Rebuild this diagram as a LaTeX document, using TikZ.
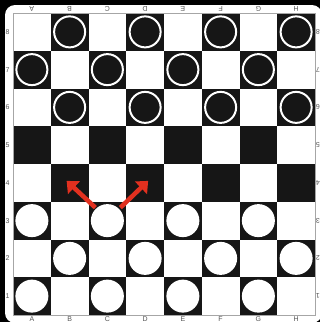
\documentclass[tikz,border=0pt]{standalone}
\usepackage{fontspec}
\setmainfont{Liberation Sans}
\usetikzlibrary{arrows.meta}
\definecolor{sqdark}{HTML}{161616}
\definecolor{lbl}{HTML}{555555}
\definecolor{arrred}{HTML}{E2301F}
\tikzset{
  darksq/.style={fill=sqdark},
  blackpiece/.style={circle, draw=white, line width=2pt, fill=sqdark, minimum size=31pt, inner sep=0pt},
  whitepiece/.style={circle, fill=white, minimum size=33pt, inner sep=0pt},
  lab/.style={font=\fontsize{7}{7}\selectfont, text=lbl, inner sep=0pt},
  movearrow/.style={draw=arrred, line width=4.5pt, -{Triangle[length=10pt,width=17pt]}, shorten >=0pt}
}
\begin{document}
\begin{tikzpicture}[x=1pt,y=-1pt]
\useasboundingbox (0,0) rectangle (320,322);
\fill[black] (0,0) rectangle (320,322);
\fill[white,rounded corners=10pt] (5,5) rectangle (322,323);
\def\s{37.75}
\def\ox{13}
\def\oy{13}
% squares
\foreach \i in {0,...,7}{
  \foreach \j in {0,...,7}{
    \pgfmathtruncatemacro{\parity}{mod(\i+\j,2)}
    \ifnum\parity=1
      \fill[darksq] ({\ox+\s*\i},{\oy+\s*\j}) rectangle ({\ox+\s*(\i+1)},{\oy+\s*(\j+1)});
    \fi
  }
}
\draw[gray!70, line width=0.6pt] (\ox,\oy) rectangle ({\ox+8*\s},{\oy+8*\s});
% labels
\foreach \L [count=\k from 0] in {A,B,C,D,E,F,G,H}{
  \node[lab, rotate=180] (top\L) at ({\ox+\s*(\k+0.5)},8.5) {\L};
  \node[lab] (bot\L) at ({\ox+\s*(\k+0.5)},319) {\L};
}
\foreach \r in {1,...,8}{
  \node[lab] (left\r) at (7.5,{\oy+\s*(8-\r+0.5)}) {\r};
  \node[lab, rotate=180] (right\r) at (318,{\oy+\s*(8-\r+0.5)}) {\r};
}
% black pieces
\foreach \c/\r in {1/8,3/8,5/8,7/8,0/7,2/7,4/7,6/7,1/6,3/6,5/6,7/6}{
  \node[blackpiece] (b\c\r) at ({\ox+\s*(\c+0.5)},{\oy+\s*(8-\r+0.5)}) {};
}
% white pieces
\foreach \c/\r in {0/3,2/3,4/3,6/3,1/2,3/2,5/2,7/2,0/1,2/1,4/1,6/1}{
  \node[whitepiece] (w\c\r) at ({\ox+\s*(\c+0.5)},{\oy+\s*(8-\r+0.5)}) {};
}
% move targets
\coordinate (tB4) at ({\ox+\s*1.5-3},{\oy+\s*4.5-2});
\coordinate (tD4) at ({\ox+\s*3.5+3},{\oy+\s*4.5-2});
\draw[movearrow] ([xshift=-12pt,yshift=13pt]w23.center) -- (tB4);
\draw[movearrow] ([xshift=13pt,yshift=13pt]w23.center) -- (tD4);
\end{tikzpicture}
\end{document}
